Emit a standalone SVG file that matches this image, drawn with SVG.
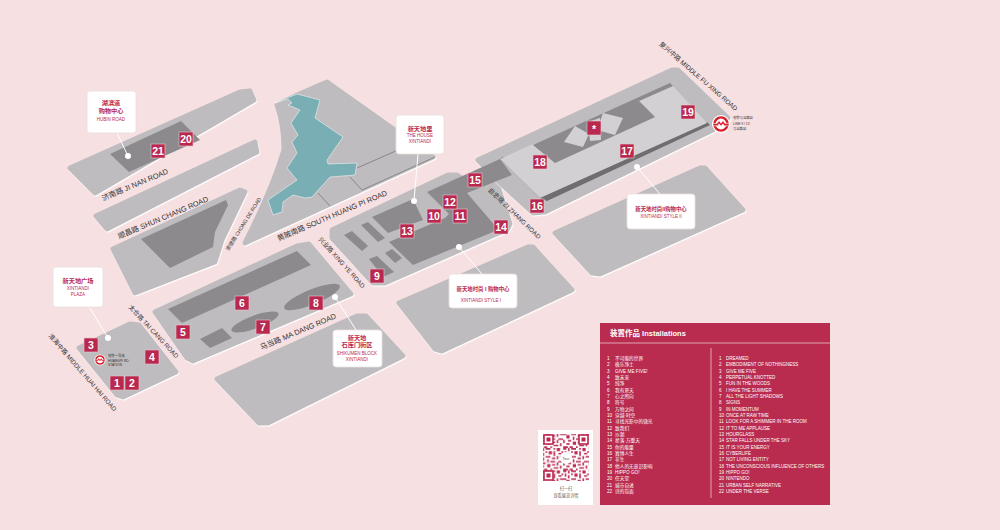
<svg xmlns="http://www.w3.org/2000/svg" width="1000" height="530" viewBox="0 0 1000 530">
<style>
text{font-family:"Liberation Sans","Noto Sans CJK SC",sans-serif}
.bl{fill:#bebcbe;stroke:#bebcbe;stroke-width:5;stroke-linejoin:round;filter:url(#edge)}
.dk{fill:#8c8a8d}
.lt{fill:#d2d0d3}
.num rect{fill:#b9284f;stroke:#e9c9cf;stroke-width:.6}
.num text{fill:#fff;font-size:10.5px;font-weight:bold;text-anchor:middle}
.rd{font-size:7.4px;fill:#333;text-anchor:middle}
.rs{font-size:6.3px}
.box{fill:#fff;stroke:#e8dfe0;stroke-width:.8}
.lead{stroke:#fff;stroke-width:1;fill:none}
.dot{fill:#fff}
.cl{fill:#b9284f;font-size:4.5px;text-anchor:middle}
.clz{fill:#b9284f;font-size:6.2px;font-weight:bold;text-anchor:middle}
.cls{font-size:5.4px}
.it{fill:#fff;font-size:4.5px}
.icn{font-size:4.7px}
.mt{fill:#333;font-size:3.3px}
</style>
<defs>
<filter id="edge" x="-5%" y="-5%" width="110%" height="110%"><feDropShadow dx=".7" dy="1.1" stdDeviation="0" flood-color="#fff"/></filter>
<pattern id="qr" width="25.600" height="22.400" patternUnits="userSpaceOnUse">
<path fill="#b9284f" d="M0 0h3.200v1.600H0zM4.800 0h1.600v3.200H4.800zM8 0h4.800v1.600H8zM16 0h1.600v1.600H16zM19.200 0h3.200v3.200H19.200zM1.600 3.200h1.600v3.200H1.600zM8 3.200h1.600v1.600H8zM11.200 3.200h3.200v3.200h-3.200zM16 3.200h1.600v4.800H16zM24 3.200h1.600v1.600H24zM4.800 4.800h1.600v3.200H4.800zM20.800 4.800h3.200v1.600h-3.200zM0 8h3.200v1.600H0zM8 8h4.800v1.600H8zM19.200 8h1.600v3.200H19.200zM22.400 8h3.200v1.600h-3.200zM3.200 9.600h3.200v3.200H3.200zM14.400 9.600h3.200v1.600h-3.200zM9.600 11.200h1.600v3.200H9.600zM12.800 12.800h4.800v1.600H12.800zM20.800 12.800h4.800v1.600H20.800zM0 14.400h1.600v3.200H0zM4.800 14.400h3.200v1.600H4.800zM19.200 14.400h1.600v3.200H19.200zM9.600 16h3.200v3.200H9.600zM14.400 16h3.200v1.600h-3.200zM3.200 17.600h3.200v1.600H3.200zM22.400 17.600h1.600v3.200H22.400zM16 19.200h4.800v1.600H16zM0 20.800h4.800v1.600H0zM6.400 20.800h3.200v1.600H6.400zM12.800 20.800h1.600v1.600H12.800z"/>
</pattern>
<g id="metro">
<circle r="9" fill="#fff"/>
<circle r="6.600" fill="none" stroke="#d81f2a" stroke-width="2.400"/>
<path d="M-8-.6H-4L-2-3.400 0-.8 2-3.400 4-.6H8V1.800H3L2-.2 0 2.200-2-.2-3 1.800H-8z" fill="#d81f2a" stroke="#fff" stroke-width=".6"/>
</g>
</defs>
<rect width="1000" height="530" fill="#f7e0e2"/>

<g id="map">
<polygon class="bl" points="70,168 240,92 250,91 254,100 95,193"/>
<polygon class="bl" points="96,216 255,142 257,152 107,229"/>
<polygon class="bl" points="113,249 240,190 245,192 222,240 215,262 135,293"/>
<path class="bl" d="M277,105L297,95L327,82L433,157L245,243Q272,190 284,150Q284,125 277,105z"/>
<polygon class="bl" points="332,230 448,175 457,175 465,180 478,173 497,183 510,224 507,230 494,235 385,283 373,283 332,238"/>
<polygon class="bl" points="478,160 672,70 678,70 728,118 725,124 545,212 533,213 498,181"/>
<polygon class="bl" points="555,233 700,168 705,168 743,210 600,274 592,273"/>
<polygon class="bl" points="399,303 528,247 533,247 572,290 442,351 435,349"/>
<polygon class="bl" points="155,312 297,246 309,244 351,294 193,361 187,358"/>
<polygon class="bl" points="217,379 357,316 366,316 403,356 268,423 259,423"/>
<polygon class="bl" points="79,348 130,324 139,325 176,372 123,397 117,395"/>
</g>

<g id="buildings">
<polygon class="dk" points="110,154 181,121 200,140 129,172"/>
<polygon class="dk" points="141,239 226,200 228,205 215,232 213,247 170,268"/>
<polygon fill="#79aeb5" stroke="#fff" stroke-width=".5" points="275,103 288,99 292,103 288,105 300,110 291,123 298,135 292,142 297,153 287,168 297,180 268,200 273,215 282,212 283,202 293,195 305,198 312,197 330,177 355,175 357,163 328,164 327,160 343,137 315,118 320,100 297,94"/>
<g fill="none" stroke="#7b797c" stroke-width=".8"><path d="M357,168L398,150"/><path d="M435,157L362,190L350,177"/><path d="M318,193L330,206"/></g>
<polygon class="dk" points="372,217 413,199 423,220 388,233"/>
<polygon class="dk" points="389,242 445,218 449,214 427,192 500,159 512,175 467,193 497,228 493,232 413,265"/>
<polygon class="dk" points="344,235 352,231 368,246 362,251"/>
<polygon class="dk" points="361,225 368,222 385,238 378,242"/>
<polygon class="dk" points="385,253 392,249 402,258 395,263"/>
<polygon class="dk" points="369,259 377,256 394,272 383,277"/>
<polygon class="dk" points="168,309 297,251 311,265 182,323"/>
<polygon class="dk" points="200,339 222,328 232,338 210,348"/>
<ellipse class="dk" cx="255" cy="322" rx="25" ry="6.500" transform="rotate(-20 255 322)"/>
<ellipse class="dk" cx="312" cy="297" rx="30" ry="7.500" transform="rotate(-22 312 297)"/>
<polygon fill="#6f6d70" points="500,159 540,198 547,201 710,125 707,122 540,196 503,157"/>
<polygon class="lt" points="500,159 533,144 555,163 655,117 639,101 673,86 707,123 540,198"/>
<polygon class="dk" points="533,145 670,83 673,86 639,101 655,117 555,163"/>
<polygon class="lt" points="575,126 589,134 583,147 564,142"/>
<polygon class="lt" points="603,113 623,118 615,135 597,130"/>
<polygon class="lt" points="588,122 600,118 601,140 590,141"/>
</g>

<g id="connectors">
<path class="lead" d="M90,308L108,338"/>
<path class="lead" d="M117,133L128,156"/>
<path class="lead" d="M418,154L414,201"/>
<path class="lead" d="M459,247L482,274"/>
<path class="lead" d="M335,297L356,330"/>
<path class="lead" d="M637,167L660,194"/>
<circle class="dot" cx="108" cy="338" r="3"/>
<circle class="dot" cx="128" cy="156" r="3"/>
<circle class="dot" cx="414" cy="201" r="3"/>
<circle class="dot" cx="459" cy="247" r="3"/>
<circle class="dot" cx="335" cy="297" r="3"/>
<circle class="dot" cx="637" cy="167" r="3"/>
</g>

<g id="roads">
<text class="rd" transform="translate(136,187) rotate(-23)">济南路 JI NAN ROAD</text>
<text class="rd" transform="translate(164,220) rotate(-23)">顺昌路 SHUN CHANG ROAD</text>
<text class="rd" transform="translate(333,218) rotate(-23)">黄陂南路 SOUTH HUANG PI ROAD</text>
<text class="rd" style="font-size:5.200px" transform="translate(245,225) rotate(-58)">崇德路 CHONG DE ROAD</text>
<text class="rd rs" transform="translate(340,264) rotate(48)">兴业路 XING YE ROAD</text>
<text class="rd rs" transform="translate(513,215) rotate(44)">自忠路 ZI ZHANG ROAD</text>
<text class="rd rs" transform="translate(152,333) rotate(47)">太仓路 TAI CANG ROAD</text>
<text class="rd" transform="translate(299,334) rotate(-23)">马当路 MA DANG ROAD</text>
<text class="rd rs" transform="translate(81,374) rotate(49)">淮海中路 MIDDLE HUAI HAI ROAD</text>
<text class="rd" style="font-size:6.500px" transform="translate(697,78) rotate(41)">复兴中路 MIDDLE FU XING ROAD</text>
</g>

<g id="metro-west"><use href="#metro" transform="translate(100,360) scale(.62)"/><text class="mt" x="108" y="357">地铁一号线</text><text class="mt" x="108" y="361.500">HUANGPI RD.</text><text class="mt" x="108" y="366">STATION</text></g>
<g id="metro-east"><use href="#metro" transform="translate(721,124)"/><text class="mt" x="733" y="119">地铁马当路站</text><text class="mt" x="733" y="124.500">LINE 9 / 13</text><text class="mt" x="733" y="130">马当路站</text></g>

<g id="callout-hubin"><rect class="box" x="87" y="91" width="49" height="42" rx="3"/><text class="clz" x="111" y="105">湖滨道</text><text class="clz" x="111" y="113">购物中心</text><text class="cl" x="111" y="121">HUBIN ROAD</text></g>
<g id="callout-plaza"><rect class="box" x="53" y="267" width="50" height="40" rx="3"/><text class="clz" x="78" y="283">新天地广场</text><text class="cl" x="78" y="290">XINTIANDI</text><text class="cl" x="78" y="296">PLAZA</text></g>
<g id="callout-royal"><rect class="box" x="396" y="115" width="48" height="39" rx="3"/><text class="clz" x="420" y="130.500">新天地里</text><text class="cl" x="420" y="137">THE HOUSE</text><text class="cl" x="420" y="143">XINTIANDI</text></g>
<g id="callout-style1"><rect class="box" x="449" y="274" width="68" height="34" rx="3"/><text class="clz cls" x="483" y="290.500">新天地时尚 I 购物中心</text><text class="cl" x="481" y="302">XINTIANDI STYLE I</text></g>
<g id="callout-block"><rect class="box" x="333" y="330" width="49" height="37" rx="3"/><text class="clz" x="357" y="340">新天地</text><text class="clz" x="357" y="347">石库门街区</text><text class="cl" x="357" y="355">SHIKUMEN BLOCK</text><text class="cl" x="357" y="361">XINTIANDI</text></g>
<g id="callout-style2"><rect class="box" x="627" y="194" width="68" height="35" rx="3"/><text class="clz cls" x="661" y="210.500">新天地时尚II购物中心</text><text class="cl" x="661" y="217.500">XINTIANDI STYLE II</text></g>

<g id="numbers" class="num">
<g id="n1"><rect x="110" y="376" width="14" height="14"/><text x="117" y="387">1</text></g>
<g id="n2"><rect x="125" y="376" width="14" height="14"/><text x="132" y="387">2</text></g>
<g id="n3"><rect x="84" y="338" width="14" height="14"/><text x="91" y="349">3</text></g>
<g id="n4"><rect x="145" y="350" width="14" height="14"/><text x="152" y="361">4</text></g>
<g id="n5"><rect x="176" y="325" width="14" height="14"/><text x="183" y="336">5</text></g>
<g id="n6"><rect x="235" y="296" width="14" height="14"/><text x="242" y="307">6</text></g>
<g id="n7"><rect x="256" y="320" width="14" height="14"/><text x="263" y="331">7</text></g>
<g id="n8"><rect x="309" y="296" width="14" height="14"/><text x="316" y="307">8</text></g>
<g id="n9"><rect x="370" y="269" width="14" height="14"/><text x="377" y="280">9</text></g>
<g id="n10"><rect x="427" y="209" width="14" height="14"/><text x="434" y="220">10</text></g>
<g id="n11"><rect x="453" y="209" width="14" height="14"/><text x="460" y="220">11</text></g>
<g id="n12"><rect x="443" y="195" width="14" height="14"/><text x="450" y="206">12</text></g>
<g id="n13"><rect x="400" y="224" width="14" height="14"/><text x="407" y="235">13</text></g>
<g id="n14"><rect x="494" y="220" width="14" height="14"/><text x="501" y="231">14</text></g>
<g id="n15"><rect x="468" y="173" width="14" height="14"/><text x="475" y="184">15</text></g>
<g id="n16"><rect x="530" y="199" width="14" height="14"/><text x="537" y="210">16</text></g>
<g id="n17"><rect x="620" y="144" width="14" height="14"/><text x="627" y="155">17</text></g>
<g id="n18"><rect x="533" y="155" width="14" height="14"/><text x="540" y="166">18</text></g>
<g id="n19"><rect x="681" y="105" width="14" height="14"/><text x="688" y="116">19</text></g>
<g id="n20"><rect x="179" y="132" width="14" height="14"/><text x="186" y="143">20</text></g>
<g id="n21"><rect x="151" y="144" width="14" height="14"/><text x="158" y="155">21</text></g>
<g id="nstar"><rect x="587" y="121" width="14" height="14"/><text x="594" y="133">*</text></g>
</g>

<g id="qrcode">
<rect x="538" y="430" width="55" height="75" fill="#fff"/>
<rect x="543" y="434" width="46" height="47" fill="url(#qr)"/>
<g fill="#fff" stroke="#b9284f" stroke-width="1.600"><rect x="544" y="435" width="9" height="9"/><rect x="579" y="435" width="9" height="9"/><rect x="544" y="471" width="9" height="9"/></g>
<g fill="#b9284f"><rect x="546.500" y="437.500" width="4" height="4"/><rect x="581.500" y="437.500" width="4" height="4"/><rect x="546.500" y="473.500" width="4" height="4"/></g>
<circle cx="566" cy="458" r="6" fill="#fff"/>
<text x="566" y="459.500" font-size="3.500" fill="#555" text-anchor="middle">Tour</text>
<text x="566" y="490" font-size="4.200" fill="#666" text-anchor="middle">扫一扫</text>
<text x="566" y="497" font-size="4.200" fill="#666" text-anchor="middle">查看展览详情</text>
</g>

<g id="panel">
<rect x="600" y="323" width="230" height="182" fill="#b92b4f"/>
<text x="610" y="336" fill="#fff" font-size="7.500px" font-weight="bold">装置作品 Installations</text>
<path d="M600,343H830M711,348V498" stroke="#ecc5cd" stroke-width=".8" fill="none"/>
<g class="it icn">
<text x="607" y="360">1<tspan x="615">不可能的世界</tspan></text><text x="607" y="366.400">2<tspan x="615">极乐净土</tspan></text><text x="607" y="372.700">3<tspan x="615">GIVE ME FIVE!</tspan></text><text x="607" y="379">4<tspan x="615">致未来</tspan></text><text x="607" y="385.300">5<tspan x="615">纯净</tspan></text><text x="607" y="391.700">6<tspan x="615">我有夏天</tspan></text><text x="607" y="398">7<tspan x="615">心之所向</tspan></text><text x="607" y="404.300">8<tspan x="615">符号</tspan></text><text x="607" y="410.700">9<tspan x="615">万物之间</tspan></text><text x="607" y="417">10<tspan x="615">穿越·时空</tspan></text><text x="607" y="423.300">11<tspan x="615">寻找光影中的微光</tspan></text><text x="607" y="429.700">12<tspan x="615">致我们</tspan></text><text x="607" y="436">13<tspan x="615">沙漏</tspan></text><text x="607" y="442.300">14<tspan x="615">星落·万重天</tspan></text><text x="607" y="448.700">15<tspan x="615">你的能量</tspan></text><text x="607" y="455">16<tspan x="615">赛博人生</tspan></text><text x="607" y="461.300">17<tspan x="615">非生</tspan></text><text x="607" y="467.700">18<tspan x="615">他人的无意识影响</tspan></text><text x="607" y="474">19<tspan x="615">HIPPO GO!</tspan></text><text x="607" y="480.300">20<tspan x="615">任天堂</tspan></text><text x="607" y="486.700">21<tspan x="615">城市自述</tspan></text><text x="607" y="493">22<tspan x="615">诗的背面</tspan></text>
</g>
<g class="it">
<text x="719" y="360">1<tspan x="726">DREAMED</tspan></text><text x="719" y="366.400">2<tspan x="726">EMBODIMENT OF NOTHINGNESS</tspan></text><text x="719" y="372.700">3<tspan x="726">GIVE ME FIVE</tspan></text><text x="719" y="379">4<tspan x="726">PERPETUAL KNOTTED</tspan></text><text x="719" y="385.300">5<tspan x="726">FUN IN THE WOODS</tspan></text><text x="719" y="391.700">6<tspan x="726">I HAVE THE SUMMER</tspan></text><text x="719" y="398">7<tspan x="726">ALL THE LIGHT SHADOWS</tspan></text><text x="719" y="404.300">8<tspan x="726">SIGNS</tspan></text><text x="719" y="410.700">9<tspan x="726">IN MOMENTUM</tspan></text><text x="719" y="417">10<tspan x="726">ONCE AT RAW TIME</tspan></text><text x="719" y="423.300">11<tspan x="726">LOOK FOR A SHIMMER IN THE ROOM</tspan></text><text x="719" y="429.700">12<tspan x="726">IT TO ME APPLAUSE</tspan></text><text x="719" y="436">13<tspan x="726">HOURGLASS</tspan></text><text x="719" y="442.300">14<tspan x="726">STAR FALLS UNDER THE SKY</tspan></text><text x="719" y="448.700">15<tspan x="726">IT IS YOUR ENERGY</tspan></text><text x="719" y="455">16<tspan x="726">CYBERLIFE</tspan></text><text x="719" y="461.300">17<tspan x="726">NOT LIVING ENTITY</tspan></text><text x="719" y="467.700">18<tspan x="726">THE UNCONSCIOUS INFLUENCE OF OTHERS</tspan></text><text x="719" y="474">19<tspan x="726">HIPPO GO!</tspan></text><text x="719" y="480.300">20<tspan x="726">NINTENDO</tspan></text><text x="719" y="486.700">21<tspan x="726">URBAN SELF NARRATIVE</tspan></text><text x="719" y="493">22<tspan x="726">UNDER THE VERSE</tspan></text>
</g>
</g>
</svg>
